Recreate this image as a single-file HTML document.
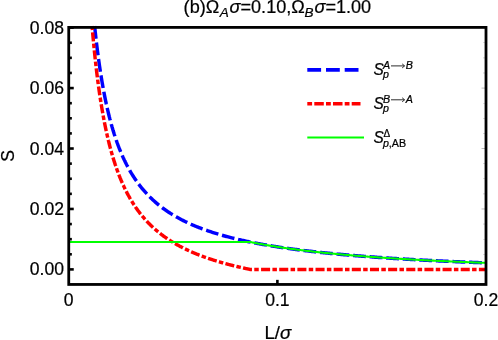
<!DOCTYPE html>
<html><head><meta charset="utf-8"><title>plot</title>
<style>
html,body{margin:0;padding:0;background:#fff;}
body{width:498px;height:340px;overflow:hidden;}
svg{display:block;will-change:transform;}
text{font-family:"Liberation Sans",sans-serif;fill:#000;stroke:#000;stroke-width:0.22px;}
.i{font-style:italic;}
</style></head><body>
<svg width="498" height="340" viewBox="0 0 498 340">
<rect width="498" height="340" fill="#fff"/>
<defs><clipPath id="cp"><rect x="68.75" y="25.599999999999998" width="417.25" height="258.85"/></clipPath></defs>
<g clip-path="url(#cp)" fill="none">
<path d="M94.62,26.00 L94.74,27.18 L94.86,28.36 L94.99,29.52 L95.11,30.67 L95.23,31.81 L95.36,32.93 L95.48,34.05 L95.60,35.16 L95.72,36.26 L95.85,37.35 L95.97,38.43 L96.09,39.50 L96.22,40.56 L96.34,41.61 L96.46,42.65 L96.58,43.68 L96.71,44.70 L96.83,45.71 L96.95,46.72 L97.08,47.71 L97.20,48.70 L97.32,49.68 L97.44,50.65 L97.57,51.61 L97.69,52.57 L97.81,53.51 L97.93,54.45 L98.06,55.38 L98.18,56.31 L98.30,57.22 L98.43,58.13 L98.55,59.03 L98.67,59.92 L98.79,60.81 L98.92,61.68 L99.04,62.56 L99.16,63.42 L99.29,64.28 L99.41,65.13 L99.53,65.97 L99.65,66.81 L99.78,67.64 L99.90,68.46 L100.02,69.28 L100.15,70.09 L100.27,70.89 L100.39,71.69 L100.51,72.48 L100.64,73.27 L100.76,74.05 L100.88,74.82 L101.00,75.59 L101.13,76.35 L101.25,77.11 L101.37,77.86 L101.50,78.60 L101.62,79.34 L101.74,80.08 L101.86,80.81 L101.99,81.53 L102.11,82.25 L102.23,82.96 L102.36,83.67 L102.48,84.37 L102.60,85.07 L102.72,85.76 L102.85,86.45 L102.97,87.13 L103.09,87.81 L103.22,88.48 L103.34,89.15 L103.46,89.81 L103.58,90.47 L103.71,91.13 L103.83,91.77 L103.95,92.42 L104.08,93.06 L104.20,93.70 L104.32,94.33 L104.44,94.95 L104.57,95.58 L104.69,96.20 L104.81,96.81 L104.93,97.42 L105.06,98.03 L105.18,98.63 L105.30,99.23 L105.43,99.82 L105.55,100.41 L105.67,101.00 L105.79,101.58 L105.92,102.16 L106.04,102.73 L106.16,103.31 L106.29,103.87 L106.41,104.44 L106.53,105.00 L106.65,105.55 L106.78,106.10 L106.90,106.65 L107.02,107.20 L107.15,107.74 L107.27,108.28 L107.39,108.82 L107.51,109.35 L107.64,109.88 L107.76,110.40 L107.88,110.92 L108.00,111.44 L108.13,111.96 L108.25,112.47 L108.37,112.98 L108.50,113.49 L108.62,113.99 L108.74,114.49 L108.86,114.98 L108.99,115.48 L109.11,115.97 L109.23,116.46 L109.36,116.94 L109.48,117.42 L109.60,117.90 L109.72,118.38 L109.85,118.85 L109.97,119.32 L110.09,119.79 L110.22,120.26 L110.34,120.72 L110.46,121.18 L110.58,121.63 L110.71,122.09 L110.83,122.54 L110.95,122.99 L111.07,123.43 L111.20,123.88 L111.32,124.32 L111.44,124.76 L111.57,125.19 L111.69,125.63 L111.81,126.06 L111.93,126.49 L112.06,126.91 L112.18,127.34 L112.30,127.76 L112.43,128.18 L112.55,128.60 L112.67,129.01 L112.79,129.42 L112.92,129.83 L113.04,130.24 L113.16,130.65 L113.29,131.05 L113.41,131.45 L113.53,131.85 L113.65,132.24 L113.78,132.64 L113.90,133.03 L114.02,133.42 L114.14,133.81 L114.27,134.20 L114.39,134.58 L114.51,134.96 L114.64,135.34 L114.76,135.72 L114.88,136.09 L115.00,136.47 L115.13,136.84 L115.25,137.21 L115.37,137.58 L115.50,137.94 L115.62,138.31 L115.74,138.67 L115.86,139.03 L115.99,139.39 L116.11,139.75 L116.23,140.10 L116.36,140.45 L116.48,140.81 L116.60,141.15 L116.72,141.50 L116.85,141.85 L116.97,142.19 L117.09,142.53 L117.22,142.87 L117.34,143.21 L117.46,143.55 L117.58,143.89 L117.71,144.22 L117.83,144.55 L117.95,144.88 L118.07,145.21 L118.20,145.54 L118.32,145.86 L118.44,146.19 L118.57,146.51 L118.69,146.83 L118.81,147.15 L118.93,147.47 L119.06,147.78 L119.18,148.10 L119.30,148.41 L119.43,148.72 L119.55,149.03 L119.67,149.34 L119.79,149.65 L119.92,149.96 L120.04,150.26 L120.16,150.56 L120.29,150.86 L120.41,151.16 L120.53,151.46 L120.65,151.76 L120.78,152.06 L120.90,152.35 L121.02,152.64 L121.14,152.93 L121.27,153.22 L121.39,153.51 L121.51,153.80 L121.64,154.09 L121.76,154.37 L121.88,154.66 L122.00,154.94 L122.13,155.22 L122.25,155.50 L122.37,155.78 L122.50,156.05 L122.62,156.33 L122.74,156.60 L122.86,156.88 L122.99,157.15 L123.11,157.42 L123.23,157.69 L123.36,157.96 L123.48,158.23 L123.60,158.49 L123.72,158.76 L123.85,159.02 L123.97,159.28 L124.09,159.55 L124.21,159.81 L124.34,160.06 L124.46,160.32 L124.58,160.58 L124.71,160.84 L124.83,161.09 L124.95,161.34 L125.07,161.60 L125.20,161.85 L125.32,162.10 L125.44,162.35 L125.57,162.59 L125.69,162.84 L125.81,163.09 L125.93,163.33 L126.06,163.58 L126.18,163.82 L126.30,164.06 L126.43,164.30 L126.55,164.54 L126.67,164.78 L126.79,165.02 L126.92,165.26 L127.04,165.49 L127.16,165.73 L127.28,165.96 L127.41,166.19 L127.53,166.42 L127.65,166.66 L127.78,166.89 L127.90,167.11 L128.02,167.34 L128.14,167.57 L128.27,167.80 L128.39,168.02 L128.51,168.25 L128.64,168.47 L128.76,168.69 L128.88,168.91 L129.00,169.13 L129.13,169.35 L129.25,169.57 L129.37,169.79 L129.50,170.01 L129.62,170.22 L129.74,170.44 L129.86,170.65 L129.99,170.87 L130.11,171.08 L130.23,171.29 L130.36,171.50 L130.48,171.71 L130.60,171.92 L130.72,172.13 L130.85,172.34 L130.97,172.55 L131.09,172.75 L131.21,172.96 L131.34,173.16 L132.23,174.62 L133.12,176.04 L134.00,177.42 L134.89,178.76 L135.78,180.07 L136.67,181.34 L137.56,182.58 L138.45,183.79 L139.34,184.97 L140.23,186.12 L141.12,187.24 L142.00,188.34 L142.89,189.41 L143.78,190.45 L144.67,191.47 L145.56,192.47 L146.45,193.44 L147.34,194.39 L148.23,195.32 L149.12,196.23 L150.00,197.12 L150.89,197.99 L151.78,198.85 L152.67,199.68 L153.56,200.50 L154.45,201.30 L155.34,202.09 L156.23,202.85 L157.11,203.61 L158.00,204.35 L158.89,205.07 L159.78,205.78 L160.67,206.48 L161.56,207.16 L162.45,207.83 L163.34,208.49 L164.23,209.14 L165.11,209.77 L166.00,210.39 L166.89,211.01 L167.78,211.61 L168.67,212.20 L169.56,212.78 L170.45,213.35 L171.34,213.91 L172.23,214.46 L173.11,215.00 L174.00,215.53 L174.89,216.06 L175.78,216.57 L176.67,217.08 L177.56,217.58 L178.45,218.07 L179.34,218.55 L180.23,219.03 L181.11,219.50 L182.00,219.96 L182.89,220.41 L183.78,220.86 L184.67,221.30 L185.56,221.73 L186.45,222.16 L187.34,222.58 L188.23,222.99 L189.11,223.40 L190.00,223.80 L190.89,224.20 L191.78,224.59 L192.67,224.98 L193.56,225.36 L194.45,225.73 L195.34,226.10 L196.23,226.47 L197.11,226.83 L198.00,227.18 L198.89,227.53 L199.78,227.88 L200.67,228.22 L201.56,228.55 L202.45,228.89 L203.34,229.21 L204.23,229.54 L205.11,229.86 L206.00,230.17 L206.89,230.48 L207.78,230.79 L208.67,231.10 L209.56,231.39 L210.45,231.69 L211.34,231.98 L212.23,232.27 L213.11,232.56 L214.00,232.84 L214.89,233.12 L215.78,233.39 L216.67,233.67 L217.56,233.93 L218.45,234.20 L219.34,234.46 L220.23,234.72 L221.11,234.98 L222.00,235.23 L222.89,235.48 L223.78,235.73 L224.67,235.98 L225.56,236.22 L226.45,236.46 L227.34,236.70 L228.23,236.93 L229.11,237.16 L230.00,237.39 L230.89,237.62 L231.78,237.85 L232.67,238.07 L233.56,238.29 L234.45,238.51 L235.34,238.72 L236.23,238.93 L237.11,239.15 L238.00,239.35 L238.89,239.56 L239.78,239.76 L240.67,239.97 L241.56,240.17 L242.45,240.37 L243.34,240.56 L244.23,240.76 L245.11,240.95 L246.00,241.14 L246.89,241.33 L247.78,241.52 L248.67,241.70 L249.56,241.88 L250.45,242.07 L251.34,242.25 L252.22,242.42 L253.11,242.60 L254.00,242.78 L254.89,242.95 L255.78,243.12 L256.67,243.29 L257.56,243.46 L258.45,243.62 L259.34,243.79 L260.22,243.95 L261.11,244.12 L262.00,244.28 L262.89,244.44 L263.78,244.59 L264.67,244.75 L265.56,244.91 L266.45,245.06 L267.34,245.21 L268.22,245.36 L269.11,245.51 L270.00,245.66 L270.89,245.81 L271.78,245.95 L272.67,246.10 L273.56,246.24 L274.45,246.38 L275.34,246.53 L276.22,246.67 L277.11,246.80 L278.00,246.94 L278.89,247.08 L279.78,247.21 L280.67,247.35 L281.56,247.48 L282.45,247.61 L283.34,247.74 L284.22,247.87 L285.11,248.00 L286.00,248.13 L286.89,248.26 L287.78,248.38 L288.67,248.51 L289.56,248.63 L290.45,248.75 L291.34,248.87 L292.22,248.99 L293.11,249.11 L294.00,249.23 L294.89,249.35 L295.78,249.47 L296.67,249.58 L297.56,249.70 L298.45,249.81 L299.34,249.93 L300.22,250.04 L301.11,250.15 L302.00,250.26 L302.89,250.37 L303.78,250.48 L304.67,250.59 L305.56,250.70 L306.45,250.80 L307.34,250.91 L308.22,251.02 L309.11,251.12 L310.00,251.22 L310.89,251.33 L311.78,251.43 L312.67,251.53 L313.56,251.63 L314.45,251.73 L315.34,251.83 L316.22,251.93 L317.11,252.03 L318.00,252.12 L318.89,252.22 L319.78,252.32 L320.67,252.41 L321.56,252.50 L322.45,252.60 L323.34,252.69 L324.22,252.78 L325.11,252.88 L326.00,252.97 L326.89,253.06 L327.78,253.15 L328.67,253.24 L329.56,253.33 L330.45,253.41 L331.34,253.50 L332.22,253.59 L333.11,253.67 L334.00,253.76 L334.89,253.84 L335.78,253.93 L336.67,254.01 L337.56,254.10 L338.45,254.18 L339.34,254.26 L340.22,254.34 L341.11,254.42 L342.00,254.51 L342.89,254.59 L343.78,254.67 L344.67,254.74 L345.56,254.82 L346.45,254.90 L347.33,254.98 L348.22,255.06 L349.11,255.13 L350.00,255.21 L350.89,255.28 L351.78,255.36 L352.67,255.43 L353.56,255.51 L354.45,255.58 L355.33,255.66 L356.22,255.73 L357.11,255.80 L358.00,255.87 L358.89,255.94 L359.78,256.01 L360.67,256.09 L361.56,256.16 L362.45,256.22 L363.33,256.29 L364.22,256.36 L365.11,256.43 L366.00,256.50 L366.89,256.57 L367.78,256.63 L368.67,256.70 L369.56,256.77 L370.45,256.83 L371.33,256.90 L372.22,256.96 L373.11,257.03 L374.00,257.09 L374.89,257.16 L375.78,257.22 L376.67,257.28 L377.56,257.35 L378.45,257.41 L379.33,257.47 L380.22,257.53 L381.11,257.59 L382.00,257.65 L382.89,257.71 L383.78,257.77 L384.67,257.83 L385.56,257.89 L386.45,257.95 L387.33,258.01 L388.22,258.07 L389.11,258.13 L390.00,258.19 L390.89,258.24 L391.78,258.30 L392.67,258.36 L393.56,258.41 L394.45,258.47 L395.33,258.53 L396.22,258.58 L397.11,258.64 L398.00,258.69 L398.89,258.75 L399.78,258.80 L400.67,258.85 L401.56,258.91 L402.45,258.96 L403.33,259.01 L404.22,259.07 L405.11,259.12 L406.00,259.17 L406.89,259.22 L407.78,259.28 L408.67,259.33 L409.56,259.38 L410.45,259.43 L411.33,259.48 L412.22,259.53 L413.11,259.58 L414.00,259.63 L414.89,259.68 L415.78,259.73 L416.67,259.78 L417.56,259.82 L418.45,259.87 L419.33,259.92 L420.22,259.97 L421.11,260.02 L422.00,260.06 L422.89,260.11 L423.78,260.16 L424.67,260.20 L425.56,260.25 L426.45,260.29 L427.33,260.34 L428.22,260.39 L429.11,260.43 L430.00,260.48 L430.89,260.52 L431.78,260.56 L432.67,260.61 L433.56,260.65 L434.45,260.70 L435.33,260.74 L436.22,260.78 L437.11,260.83 L438.00,260.87 L438.89,260.91 L439.78,260.95 L440.67,261.00 L441.56,261.04 L442.44,261.08 L443.33,261.12 L444.22,261.16 L445.11,261.20 L446.00,261.24 L446.89,261.29 L447.78,261.33 L448.67,261.37 L449.56,261.41 L450.44,261.45 L451.33,261.48 L452.22,261.52 L453.11,261.56 L454.00,261.60 L454.89,261.64 L455.78,261.68 L456.67,261.72 L457.56,261.76 L458.44,261.79 L459.33,261.83 L460.22,261.87 L461.11,261.91 L462.00,261.94 L462.89,261.98 L463.78,262.02 L464.67,262.05 L465.56,262.09 L466.44,262.13 L467.33,262.16 L468.22,262.20 L469.11,262.23 L470.00,262.27 L470.89,262.30 L471.78,262.34 L472.67,262.37 L473.56,262.41 L474.44,262.44 L475.33,262.48 L476.22,262.51 L477.11,262.55 L478.00,262.58 L478.89,262.61 L479.78,262.65 L480.67,262.68 L481.56,262.71 L482.44,262.75 L483.33,262.78 L484.22,262.81 L485.11,262.85 L486.00,262.88" stroke="#0000ff" stroke-width="3.45" stroke-dasharray="12.8 3.8" stroke-dashoffset="0"/>
<path d="M92.07,26.00 L92.20,27.56 L92.33,29.09 L92.46,30.62 L92.59,32.12 L92.72,33.61 L92.85,35.08 L92.99,36.54 L93.12,37.98 L93.25,39.40 L93.38,40.81 L93.51,42.21 L93.64,43.59 L93.77,44.95 L93.91,46.30 L94.04,47.64 L94.17,48.97 L94.30,50.28 L94.43,51.57 L94.56,52.86 L94.69,54.13 L94.82,55.38 L94.96,56.63 L95.09,57.86 L95.22,59.08 L95.35,60.29 L95.48,61.49 L95.61,62.67 L95.74,63.85 L95.88,65.01 L96.01,66.16 L96.14,67.30 L96.27,68.43 L96.40,69.55 L96.53,70.65 L96.66,71.75 L96.79,72.84 L96.93,73.91 L97.06,74.98 L97.19,76.04 L97.32,77.09 L97.45,78.12 L97.58,79.15 L97.71,80.17 L97.85,81.18 L97.98,82.18 L98.11,83.17 L98.24,84.16 L98.37,85.13 L98.50,86.10 L98.63,87.05 L98.76,88.00 L98.90,88.94 L99.03,89.88 L99.16,90.80 L99.29,91.72 L99.42,92.63 L99.55,93.53 L99.68,94.42 L99.82,95.31 L99.95,96.18 L100.08,97.06 L100.21,97.92 L100.34,98.78 L100.47,99.63 L100.60,100.47 L100.74,101.30 L100.87,102.13 L101.00,102.95 L101.13,103.77 L101.26,104.58 L101.39,105.38 L101.52,106.18 L101.65,106.97 L101.79,107.75 L101.92,108.53 L102.05,109.30 L102.18,110.06 L102.31,110.82 L102.44,111.58 L102.57,112.32 L102.71,113.06 L102.84,113.80 L102.97,114.53 L103.10,115.25 L103.23,115.97 L103.36,116.69 L103.49,117.40 L103.62,118.10 L103.76,118.80 L103.89,119.49 L104.02,120.18 L104.15,120.86 L104.28,121.53 L104.41,122.21 L104.54,122.87 L104.68,123.54 L104.81,124.19 L104.94,124.85 L105.07,125.50 L105.20,126.14 L105.33,126.78 L105.46,127.41 L105.59,128.04 L105.73,128.67 L105.86,129.29 L105.99,129.90 L106.12,130.52 L106.25,131.12 L106.38,131.73 L106.51,132.33 L106.65,132.92 L106.78,133.51 L106.91,134.10 L107.04,134.68 L107.17,135.26 L107.30,135.84 L107.43,136.41 L107.56,136.98 L107.70,137.54 L107.83,138.10 L107.96,138.66 L108.09,139.21 L108.22,139.76 L108.35,140.30 L108.48,140.85 L108.62,141.38 L108.75,141.92 L108.88,142.45 L109.01,142.98 L109.14,143.50 L109.27,144.02 L109.40,144.54 L109.53,145.05 L109.67,145.56 L109.80,146.07 L109.93,146.58 L110.06,147.08 L110.19,147.58 L110.32,148.07 L110.45,148.56 L110.59,149.05 L110.72,149.54 L110.85,150.02 L110.98,150.50 L111.11,150.97 L111.24,151.45 L111.37,151.92 L111.51,152.39 L111.64,152.85 L111.77,153.31 L111.90,153.77 L112.03,154.23 L112.16,154.68 L112.29,155.14 L112.42,155.58 L112.56,156.03 L112.69,156.47 L112.82,156.91 L112.95,157.35 L113.08,157.79 L113.21,158.22 L113.34,158.65 L113.48,159.08 L113.61,159.50 L113.74,159.92 L113.87,160.34 L114.00,160.76 L114.13,161.18 L114.26,161.59 L114.39,162.00 L114.53,162.41 L114.66,162.82 L114.79,163.22 L114.92,163.62 L115.05,164.02 L115.18,164.42 L115.31,164.81 L115.45,165.20 L115.58,165.59 L115.71,165.98 L115.84,166.37 L115.97,166.75 L116.10,167.13 L116.23,167.51 L116.36,167.89 L116.50,168.27 L116.63,168.64 L116.76,169.01 L116.89,169.38 L117.02,169.75 L117.15,170.11 L117.28,170.47 L117.42,170.84 L117.55,171.20 L117.68,171.55 L117.81,171.91 L117.94,172.26 L118.07,172.61 L118.20,172.96 L118.33,173.31 L118.47,173.66 L118.60,174.00 L118.73,174.35 L118.86,174.69 L118.99,175.03 L119.12,175.36 L119.25,175.70 L119.39,176.03 L119.52,176.36 L119.65,176.69 L119.78,177.02 L119.91,177.35 L120.04,177.68 L120.17,178.00 L120.30,178.32 L120.44,178.64 L120.57,178.96 L120.70,179.28 L120.83,179.59 L120.96,179.91 L121.09,180.22 L121.22,180.53 L121.36,180.84 L121.49,181.15 L121.62,181.46 L121.75,181.76 L121.88,182.06 L122.01,182.37 L122.14,182.67 L122.27,182.96 L122.41,183.26 L122.54,183.56 L122.67,183.85 L122.80,184.15 L122.93,184.44 L123.06,184.73 L123.19,185.02 L123.33,185.30 L123.46,185.59 L123.59,185.87 L123.72,186.16 L123.85,186.44 L123.98,186.72 L124.11,187.00 L124.25,187.28 L124.38,187.56 L124.51,187.83 L124.64,188.11 L124.77,188.38 L124.90,188.65 L125.03,188.92 L125.16,189.19 L125.30,189.46 L125.43,189.72 L125.56,189.99 L125.69,190.25 L125.82,190.52 L125.95,190.78 L126.08,191.04 L126.22,191.30 L126.35,191.56 L126.48,191.81 L126.61,192.07 L126.74,192.33 L126.87,192.58 L127.00,192.83 L127.13,193.08 L127.27,193.33 L127.40,193.58 L127.53,193.83 L127.66,194.08 L127.79,194.32 L127.92,194.57 L128.05,194.81 L128.19,195.05 L128.32,195.30 L128.45,195.54 L128.58,195.78 L128.71,196.01 L128.84,196.25 L128.97,196.49 L129.10,196.72 L129.24,196.96 L129.37,197.19 L129.50,197.42 L129.63,197.65 L129.76,197.88 L129.89,198.11 L130.02,198.34 L130.16,198.57 L130.29,198.80 L130.42,199.02 L130.55,199.25 L130.68,199.47 L130.81,199.69 L130.94,199.91 L131.07,200.13 L131.21,200.35 L131.34,200.57 L131.73,201.23 L132.13,201.88 L132.53,202.52 L132.93,203.15 L133.32,203.77 L133.72,204.39 L134.12,205.00 L134.51,205.60 L134.91,206.20 L135.31,206.79 L135.71,207.37 L136.10,207.94 L136.50,208.51 L136.90,209.07 L137.29,209.63 L137.69,210.17 L138.09,210.72 L138.49,211.25 L138.88,211.78 L139.28,212.31 L139.68,212.82 L140.07,213.34 L140.47,213.84 L140.87,214.34 L141.27,214.84 L141.66,215.33 L142.06,215.82 L142.46,216.30 L142.85,216.77 L143.25,217.24 L143.65,217.70 L144.05,218.17 L144.44,218.62 L144.84,219.07 L145.24,219.52 L145.63,219.96 L146.03,220.40 L146.43,220.83 L146.83,221.26 L147.22,221.68 L147.62,222.10 L148.02,222.51 L148.41,222.93 L148.81,223.33 L149.21,223.74 L149.61,224.14 L150.00,224.53 L150.40,224.92 L150.80,225.31 L151.19,225.69 L151.59,226.08 L151.99,226.45 L152.38,226.83 L152.78,227.20 L153.18,227.56 L153.58,227.93 L153.97,228.28 L154.37,228.64 L154.77,228.99 L155.16,229.34 L155.56,229.69 L155.96,230.03 L156.36,230.38 L156.75,230.71 L157.15,231.05 L157.55,231.38 L157.94,231.71 L158.34,232.03 L158.74,232.36 L159.14,232.68 L159.53,232.99 L159.93,233.31 L160.33,233.62 L160.72,233.93 L161.12,234.24 L161.52,234.54 L161.92,234.84 L162.31,235.14 L162.71,235.44 L163.11,235.73 L163.50,236.02 L163.90,236.31 L164.30,236.60 L164.70,236.88 L165.09,237.17 L165.49,237.45 L165.89,237.72 L166.28,238.00 L166.68,238.27 L167.08,238.54 L167.48,238.81 L167.87,239.08 L168.27,239.34 L168.67,239.61 L169.06,239.87 L169.46,240.12 L169.86,240.38 L170.26,240.64 L170.65,240.89 L171.05,241.14 L171.45,241.39 L171.84,241.63 L172.24,241.88 L172.64,242.12 L173.04,242.36 L173.43,242.60 L173.83,242.84 L174.23,243.08 L174.62,243.31 L175.02,243.54 L175.42,243.77 L175.82,244.00 L176.21,244.23 L176.61,244.46 L177.01,244.68 L177.40,244.90 L177.80,245.12 L178.20,245.34 L178.59,245.56 L178.99,245.78 L179.39,245.99 L179.79,246.20 L180.18,246.41 L180.58,246.62 L180.98,246.83 L181.37,247.04 L181.77,247.25 L182.17,247.45 L182.57,247.65 L182.96,247.86 L183.36,248.06 L183.76,248.25 L184.15,248.45 L184.55,248.65 L184.95,248.84 L185.35,249.04 L185.74,249.23 L186.14,249.42 L186.54,249.61 L186.93,249.80 L187.33,249.99 L187.73,250.17 L188.13,250.36 L188.52,250.54 L188.92,250.72 L189.32,250.90 L189.71,251.08 L190.11,251.26 L190.51,251.44 L190.91,251.62 L191.30,251.79 L191.70,251.97 L192.10,252.14 L192.49,252.31 L192.89,252.48 L193.29,252.65 L193.69,252.82 L194.08,252.99 L194.48,253.16 L194.88,253.32 L195.27,253.49 L195.67,253.65 L196.07,253.81 L196.47,253.97 L196.86,254.14 L197.26,254.29 L197.66,254.45 L198.05,254.61 L198.45,254.77 L198.85,254.92 L199.25,255.08 L199.64,255.23 L200.04,255.39 L200.44,255.54 L200.83,255.69 L201.23,255.84 L201.63,255.99 L202.03,256.14 L202.42,256.29 L202.82,256.43 L203.22,256.58 L203.61,256.73 L204.01,256.87 L204.41,257.01 L204.81,257.16 L205.20,257.30 L205.60,257.44 L206.00,257.58 L206.39,257.72 L206.79,257.86 L207.19,258.00 L207.58,258.13 L207.98,258.27 L208.38,258.41 L208.78,258.54 L209.17,258.67 L209.57,258.81 L209.97,258.94 L210.36,259.07 L210.76,259.20 L211.16,259.33 L211.56,259.46 L211.95,259.59 L212.35,259.72 L212.75,259.85 L213.14,259.98 L213.54,260.10 L213.94,260.23 L214.34,260.35 L214.73,260.48 L215.13,260.60 L215.53,260.73 L215.92,260.85 L216.32,260.97 L216.72,261.09 L217.12,261.21 L217.51,261.33 L217.91,261.45 L218.31,261.57 L218.70,261.69 L219.10,261.80 L219.50,261.92 L219.90,262.04 L220.29,262.15 L220.69,262.27 L221.09,262.38 L221.48,262.50 L221.88,262.61 L222.28,262.72 L222.68,262.83 L223.07,262.94 L223.47,263.06 L223.87,263.17 L224.26,263.28 L224.66,263.38 L225.06,263.49 L225.46,263.60 L225.85,263.71 L226.25,263.82 L226.65,263.92 L227.04,264.03 L227.44,264.13 L227.84,264.24 L228.24,264.34 L228.63,264.45 L229.03,264.55 L229.43,264.65 L229.82,264.76 L230.22,264.86 L230.62,264.96 L231.02,265.06 L231.41,265.16 L231.81,265.26 L232.21,265.36 L232.60,265.46 L233.00,265.56 L233.40,265.66 L233.79,265.76 L234.19,265.85 L234.59,265.95 L234.99,266.05 L235.38,266.14 L235.78,266.24 L236.18,266.33 L236.57,266.43 L236.97,266.52 L237.37,266.61 L237.77,266.71 L238.16,266.80 L238.56,266.89 L238.96,266.99 L239.35,267.08 L239.75,267.17 L240.15,267.26 L240.55,267.35 L240.94,267.44 L241.34,267.53 L241.74,267.62 L242.13,267.71 L242.53,267.79 L242.93,267.88 L243.33,267.97 L243.72,268.06 L244.12,268.14 L244.52,268.23 L244.91,268.32 L245.31,268.40 L245.71,268.49 L246.11,268.57 L246.50,268.66 L246.90,268.74 L247.30,268.82 L247.69,268.91 L248.09,268.99 L248.49,269.07 L248.89,269.16 L249.28,269.24 L249.68,269.32 L250.08,269.40 L486.00,269.40" stroke="#ff0000" stroke-width="3.45" stroke-dasharray="4.5 2.3 9.05 2.3" stroke-dashoffset="0.5"/>
<path d="M68.75,241.99 L250.08,241.99 L250.87,242.15 L251.65,242.31 L252.44,242.47 L253.23,242.62 L254.02,242.78 L254.81,242.93 L255.60,243.09 L256.39,243.24 L257.18,243.39 L257.97,243.53 L258.76,243.68 L259.55,243.83 L260.33,243.97 L261.12,244.12 L261.91,244.26 L262.70,244.40 L263.49,244.54 L264.28,244.68 L265.07,244.82 L265.86,244.96 L266.65,245.09 L267.44,245.23 L268.22,245.36 L269.01,245.50 L269.80,245.63 L270.59,245.76 L271.38,245.89 L272.17,246.02 L272.96,246.15 L273.75,246.27 L274.54,246.40 L275.33,246.52 L276.12,246.65 L276.90,246.77 L277.69,246.89 L278.48,247.02 L279.27,247.14 L280.06,247.26 L280.85,247.37 L281.64,247.49 L282.43,247.61 L283.22,247.73 L284.01,247.84 L284.79,247.96 L285.58,248.07 L286.37,248.18 L287.16,248.29 L287.95,248.41 L288.74,248.52 L289.53,248.63 L290.32,248.73 L291.11,248.84 L291.90,248.95 L292.69,249.06 L293.47,249.16 L294.26,249.27 L295.05,249.37 L295.84,249.48 L296.63,249.58 L297.42,249.68 L298.21,249.78 L299.00,249.88 L299.79,249.98 L300.58,250.08 L301.36,250.18 L302.15,250.28 L302.94,250.38 L303.73,250.48 L304.52,250.57 L305.31,250.67 L306.10,250.76 L306.89,250.86 L307.68,250.95 L308.47,251.04 L309.25,251.14 L310.04,251.23 L310.83,251.32 L311.62,251.41 L312.41,251.50 L313.20,251.59 L313.99,251.68 L314.78,251.77 L315.57,251.86 L316.36,251.94 L317.15,252.03 L317.93,252.12 L318.72,252.20 L319.51,252.29 L320.30,252.37 L321.09,252.46 L321.88,252.54 L322.67,252.62 L323.46,252.70 L324.25,252.79 L325.04,252.87 L325.82,252.95 L326.61,253.03 L327.40,253.11 L328.19,253.19 L328.98,253.27 L329.77,253.35 L330.56,253.42 L331.35,253.50 L332.14,253.58 L332.93,253.66 L333.72,253.73 L334.50,253.81 L335.29,253.88 L336.08,253.96 L336.87,254.03 L337.66,254.11 L338.45,254.18 L339.24,254.25 L340.03,254.33 L340.82,254.40 L341.61,254.47 L342.39,254.54 L343.18,254.61 L343.97,254.68 L344.76,254.75 L345.55,254.82 L346.34,254.89 L347.13,254.96 L347.92,255.03 L348.71,255.10 L349.50,255.17 L350.29,255.23 L351.07,255.30 L351.86,255.37 L352.65,255.43 L353.44,255.50 L354.23,255.56 L355.02,255.63 L355.81,255.69 L356.60,255.76 L357.39,255.82 L358.18,255.89 L358.96,255.95 L359.75,256.01 L360.54,256.08 L361.33,256.14 L362.12,256.20 L362.91,256.26 L363.70,256.32 L364.49,256.38 L365.28,256.44 L366.07,256.50 L366.85,256.56 L367.64,256.62 L368.43,256.68 L369.22,256.74 L370.01,256.80 L370.80,256.86 L371.59,256.92 L372.38,256.97 L373.17,257.03 L373.96,257.09 L374.75,257.15 L375.53,257.20 L376.32,257.26 L377.11,257.31 L377.90,257.37 L378.69,257.43 L379.48,257.48 L380.27,257.53 L381.06,257.59 L381.85,257.64 L382.64,257.70 L383.42,257.75 L384.21,257.80 L385.00,257.86 L385.79,257.91 L386.58,257.96 L387.37,258.01 L388.16,258.07 L388.95,258.12 L389.74,258.17 L390.53,258.22 L391.32,258.27 L392.10,258.32 L392.89,258.37 L393.68,258.42 L394.47,258.47 L395.26,258.52 L396.05,258.57 L396.84,258.62 L397.63,258.67 L398.42,258.72 L399.21,258.77 L399.99,258.81 L400.78,258.86 L401.57,258.91 L402.36,258.96 L403.15,259.00 L403.94,259.05 L404.73,259.10 L405.52,259.14 L406.31,259.19 L407.10,259.24 L407.88,259.28 L408.67,259.33 L409.46,259.37 L410.25,259.42 L411.04,259.46 L411.83,259.51 L412.62,259.55 L413.41,259.60 L414.20,259.64 L414.99,259.68 L415.78,259.73 L416.56,259.77 L417.35,259.81 L418.14,259.86 L418.93,259.90 L419.72,259.94 L420.51,259.98 L421.30,260.03 L422.09,260.07 L422.88,260.11 L423.67,260.15 L424.45,260.19 L425.24,260.23 L426.03,260.27 L426.82,260.31 L427.61,260.35 L428.40,260.39 L429.19,260.43 L429.98,260.47 L430.77,260.51 L431.56,260.55 L432.35,260.59 L433.13,260.63 L433.92,260.67 L434.71,260.71 L435.50,260.75 L436.29,260.79 L437.08,260.82 L437.87,260.86 L438.66,260.90 L439.45,260.94 L440.24,260.98 L441.02,261.01 L441.81,261.05 L442.60,261.09 L443.39,261.12 L444.18,261.16 L444.97,261.20 L445.76,261.23 L446.55,261.27 L447.34,261.31 L448.13,261.34 L448.92,261.38 L449.70,261.41 L450.49,261.45 L451.28,261.48 L452.07,261.52 L452.86,261.55 L453.65,261.59 L454.44,261.62 L455.23,261.66 L456.02,261.69 L456.81,261.72 L457.59,261.76 L458.38,261.79 L459.17,261.82 L459.96,261.86 L460.75,261.89 L461.54,261.92 L462.33,261.96 L463.12,261.99 L463.91,262.02 L464.70,262.06 L465.48,262.09 L466.27,262.12 L467.06,262.15 L467.85,262.18 L468.64,262.22 L469.43,262.25 L470.22,262.28 L471.01,262.31 L471.80,262.34 L472.59,262.37 L473.38,262.40 L474.16,262.43 L474.95,262.46 L475.74,262.49 L476.53,262.52 L477.32,262.56 L478.11,262.59 L478.90,262.61 L479.69,262.64 L480.48,262.67 L481.27,262.70 L482.05,262.73 L482.84,262.76 L483.63,262.79 L484.42,262.82 L485.21,262.85 L486.00,262.88" stroke="#00ff00" stroke-width="2.1"/>
</g>
<rect x="68.75" y="27.4" width="417.25" height="257.05" fill="none" stroke="#000" stroke-width="2.8"/>
<line x1="68.75" y1="269.40" x2="73.75" y2="269.40" stroke="#000" stroke-width="2.6"/>
<line x1="486.0" y1="269.40" x2="481.5" y2="269.40" stroke="#000" stroke-width="0.35" opacity="0.8"/>
<line x1="68.75" y1="254.29" x2="71.85" y2="254.29" stroke="#000" stroke-width="2.6"/>
<line x1="486.0" y1="254.29" x2="483.0" y2="254.29" stroke="#000" stroke-width="0.3" opacity="0.6"/>
<line x1="68.75" y1="239.18" x2="71.85" y2="239.18" stroke="#000" stroke-width="2.6"/>
<line x1="486.0" y1="239.18" x2="483.0" y2="239.18" stroke="#000" stroke-width="0.3" opacity="0.6"/>
<line x1="68.75" y1="224.07" x2="71.85" y2="224.07" stroke="#000" stroke-width="2.6"/>
<line x1="486.0" y1="224.07" x2="483.0" y2="224.07" stroke="#000" stroke-width="0.3" opacity="0.6"/>
<line x1="68.75" y1="208.96" x2="73.75" y2="208.96" stroke="#000" stroke-width="2.6"/>
<line x1="486.0" y1="208.96" x2="481.5" y2="208.96" stroke="#000" stroke-width="0.35" opacity="0.8"/>
<line x1="68.75" y1="193.85" x2="71.85" y2="193.85" stroke="#000" stroke-width="2.6"/>
<line x1="486.0" y1="193.85" x2="483.0" y2="193.85" stroke="#000" stroke-width="0.3" opacity="0.6"/>
<line x1="68.75" y1="178.74" x2="71.85" y2="178.74" stroke="#000" stroke-width="2.6"/>
<line x1="486.0" y1="178.74" x2="483.0" y2="178.74" stroke="#000" stroke-width="0.3" opacity="0.6"/>
<line x1="68.75" y1="163.63" x2="71.85" y2="163.63" stroke="#000" stroke-width="2.6"/>
<line x1="486.0" y1="163.63" x2="483.0" y2="163.63" stroke="#000" stroke-width="0.3" opacity="0.6"/>
<line x1="68.75" y1="148.52" x2="73.75" y2="148.52" stroke="#000" stroke-width="2.6"/>
<line x1="486.0" y1="148.52" x2="481.5" y2="148.52" stroke="#000" stroke-width="0.35" opacity="0.8"/>
<line x1="68.75" y1="133.41" x2="71.85" y2="133.41" stroke="#000" stroke-width="2.6"/>
<line x1="486.0" y1="133.41" x2="483.0" y2="133.41" stroke="#000" stroke-width="0.3" opacity="0.6"/>
<line x1="68.75" y1="118.30" x2="71.85" y2="118.30" stroke="#000" stroke-width="2.6"/>
<line x1="486.0" y1="118.30" x2="483.0" y2="118.30" stroke="#000" stroke-width="0.3" opacity="0.6"/>
<line x1="68.75" y1="103.19" x2="71.85" y2="103.19" stroke="#000" stroke-width="2.6"/>
<line x1="486.0" y1="103.19" x2="483.0" y2="103.19" stroke="#000" stroke-width="0.3" opacity="0.6"/>
<line x1="68.75" y1="88.08" x2="73.75" y2="88.08" stroke="#000" stroke-width="2.6"/>
<line x1="486.0" y1="88.08" x2="481.5" y2="88.08" stroke="#000" stroke-width="0.35" opacity="0.8"/>
<line x1="68.75" y1="72.97" x2="71.85" y2="72.97" stroke="#000" stroke-width="2.6"/>
<line x1="486.0" y1="72.97" x2="483.0" y2="72.97" stroke="#000" stroke-width="0.3" opacity="0.6"/>
<line x1="68.75" y1="57.86" x2="71.85" y2="57.86" stroke="#000" stroke-width="2.6"/>
<line x1="486.0" y1="57.86" x2="483.0" y2="57.86" stroke="#000" stroke-width="0.3" opacity="0.6"/>
<line x1="68.75" y1="42.75" x2="71.85" y2="42.75" stroke="#000" stroke-width="2.6"/>
<line x1="486.0" y1="42.75" x2="483.0" y2="42.75" stroke="#000" stroke-width="0.3" opacity="0.6"/>
<line x1="68.75" y1="27.64" x2="73.75" y2="27.64" stroke="#000" stroke-width="2.6"/>
<line x1="486.0" y1="27.64" x2="481.5" y2="27.64" stroke="#000" stroke-width="0.35" opacity="0.8"/>
<line x1="277.38" y1="284.45" x2="277.38" y2="279.84999999999997" stroke="#000" stroke-width="2.6"/>

<g transform="translate(64.00,275.40) scale(0.96,1)"><text text-anchor="end" font-size="18.3" class="" >0.00</text></g>
<g transform="translate(64.00,214.96) scale(0.96,1)"><text text-anchor="end" font-size="18.3" class="" >0.02</text></g>
<g transform="translate(64.00,154.52) scale(0.96,1)"><text text-anchor="end" font-size="18.3" class="" >0.04</text></g>
<g transform="translate(64.00,94.08) scale(0.96,1)"><text text-anchor="end" font-size="18.3" class="" >0.06</text></g>
<g transform="translate(64.00,33.64) scale(0.96,1)"><text text-anchor="end" font-size="18.3" class="" >0.08</text></g>
<g transform="translate(68.75,306.00) scale(0.96,1)"><text text-anchor="middle" font-size="18.3" class="" >0</text></g>
<g transform="translate(277.38,306.00) scale(0.96,1)"><text text-anchor="middle" font-size="18.3" class="" >0.1</text></g>
<g transform="translate(486.00,306.00) scale(0.96,1)"><text text-anchor="middle" font-size="18.3" class="" >0.2</text></g>

<g transform="translate(183.60,13.20) scale(0.99,1)"><text text-anchor="start" font-size="18.3" class="" >(b)Ω<tspan class="i" font-size="13.7" dy="3.3" dx="0.4">A</tspan><tspan class="i" dy="-3.3" dx="0.9">σ</tspan>=0.10,Ω<tspan class="i" font-size="13.7" dy="3.3" dx="-0.4">B</tspan><tspan class="i" dy="-3.3" dx="1.0">σ</tspan>=1.00</text></g>

<g transform="translate(264.50,338.70) scale(1.02,1)"><text text-anchor="start" font-size="18.3" class="" >L/<tspan class="i">σ</tspan></text></g>

<g transform="translate(14.0,156.0) rotate(-90) scale(0.96,1)"><text text-anchor="middle" font-size="18.3">S</text></g>

<g fill="none">
<line x1="307.3" y1="69.9" x2="358.5" y2="69.9" stroke="#0000ff" stroke-width="3.6" stroke-dasharray="13.8 4.9"/>
<line x1="307.3" y1="103.8" x2="360.5" y2="103.8" stroke="#ff0000" stroke-width="3.6" stroke-dasharray="4.8 2.2 9.5 2.2"/>
<line x1="307.3" y1="137.5" x2="364" y2="137.5" stroke="#00ff00" stroke-width="2.1"/>
</g>
<g transform="translate(373.60,75.00) scale(0.97,1)"><text text-anchor="start" font-size="15.9" class="i" stroke-width="0.12">S</text></g>
<g transform="translate(383.10,68.90) scale(1.07,1)"><text text-anchor="start" font-size="10.0" class="i" stroke-width="0.05">A</text></g>
<path d="M391.0,65.9 H404.4 M402.2,63.900000000000006 L404.6,65.9 L402.2,67.9" stroke="#222" stroke-width="0.95" fill="none"/>
<g transform="translate(405.80,68.90) scale(1.07,1)"><text text-anchor="start" font-size="10.0" class="i" stroke-width="0.05">B</text></g>
<g transform="translate(382.90,78.00) scale(1.07,1)"><text text-anchor="start" font-size="10.0" class="i" stroke-width="0.05">p</text></g>
<g transform="translate(373.60,108.90) scale(0.97,1)"><text text-anchor="start" font-size="15.9" class="i" stroke-width="0.12">S</text></g>
<g transform="translate(383.10,102.80) scale(1.07,1)"><text text-anchor="start" font-size="10.0" class="i" stroke-width="0.05">B</text></g>
<path d="M391.0,99.80000000000001 H404.4 M402.2,97.80000000000001 L404.6,99.80000000000001 L402.2,101.80000000000001" stroke="#222" stroke-width="0.95" fill="none"/>
<g transform="translate(405.80,102.80) scale(1.07,1)"><text text-anchor="start" font-size="10.0" class="i" stroke-width="0.05">A</text></g>
<g transform="translate(382.90,111.90) scale(1.07,1)"><text text-anchor="start" font-size="10.0" class="i" stroke-width="0.05">p</text></g>
<g transform="translate(373.60,143.30) scale(0.97,1)"><text text-anchor="start" font-size="15.9" class="i" stroke-width="0.12">S</text></g>
<g transform="translate(383.50,136.70) scale(1.0,1)"><text text-anchor="start" font-size="10.0" class="" stroke-width="0.05">Δ</text></g>
<g transform="translate(382.90,146.70) scale(1.03,1)"><text text-anchor="start" font-size="10.4" class="" stroke-width="0.05"><tspan class="i">p</tspan>,AB</text></g>

</svg>
</body></html>
